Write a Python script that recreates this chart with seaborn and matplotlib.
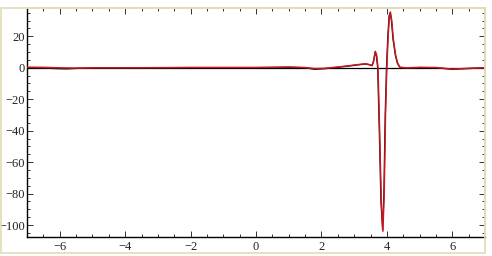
import matplotlib
matplotlib.use("Agg")
import matplotlib.pyplot as plt
from matplotlib.patches import Rectangle
from matplotlib.ticker import MultipleLocator
import seaborn as sns
import pandas as pd

# --- data ---
x_red = [-7, -6.5, -6, -5.5, -5, -4, -3, -2, -1, 0, 0.5, 1, 1.5, 1.8, 2.1, 2.5, 2.8,
         3.1, 3.35, 3.48, 3.55, 3.6, 3.65, 3.69, 3.73, 3.78, 3.83, 3.88, 3.92, 3.96,
         4.0, 4.04, 4.08, 4.11, 4.15, 4.2, 4.27, 4.33, 4.4, 4.6, 5, 5.5, 6, 6.5, 7]
y_red = [0.4, 0.3, 0.0, -0.2, 0.0, 0.0, 0.1, 0.2, 0.2, 0.2, 0.3, 0.5, 0.2, -0.5, -0.3, 0.5, 1.2,
         2.0, 2.6, 2.0, 1.5, 5.0, 10.5, 8.0, 0.0, -40.0, -85.0, -104.0, -80.0, -30.0,
         0.0, 20.0, 33.0, 35.5, 30.0, 18.0, 8.0, 3.0, 0.3, 0.0, 0.3, 0.2, -0.8, -0.3, 0.0]

x_blk = [-7, -6.5, -6, -5.8, -5.5, -5, -4, -3, -2, -1, 0, 0.5, 1, 1.5, 1.8, 2.1, 2.5, 2.8,
         3.1, 3.35, 3.48, 3.55, 3.6, 3.64, 3.68, 3.72, 3.77, 3.82, 3.87, 3.91, 3.95,
         3.99, 4.03, 4.07, 4.10, 4.14, 4.19, 4.26, 4.32, 4.4, 4.6, 5, 5.5, 6, 6.5, 7]
y_blk = [0.0, -0.2, -0.6, -0.7, -0.4, -0.1, 0.0, 0.0, 0.1, 0.1, 0.1, 0.2, 0.3, 0.0, -1.0, -0.6, 0.3, 1.0,
         1.8, 2.4, 1.8, 1.3, 4.5, 10.0, 7.5, 0.0, -40.0, -85.0, -103.0, -80.0, -30.0,
         0.0, 20.0, 33.0, 35.0, 30.0, 18.0, 8.0, 3.0, 0.2, -0.1, 0.1, 0.0, -1.0, -0.5, 0.0]

x_ticks = [-6, -4, -2, 0, 2, 4, 6]
y_ticks = [-100, -80, -60, -40, -20, 0, 20]

df_red = pd.DataFrame({"x": x_red, "y": y_red})
df_blk = pd.DataFrame({"x": x_blk, "y": y_blk})

sns.set_theme(style="ticks")
plt.rcParams["font.family"] = ["Liberation Serif", "DejaVu Serif"]

fig = plt.figure(figsize=(4.92, 2.56), dpi=100)
fig.patch.set_facecolor("white")
ax = fig.add_axes([27 / 492, 1 - 237 / 256, (485 - 27) / 492, (237 - 8) / 256])

ax.axhline(0, color="black", lw=0.9, zorder=1)
sns.lineplot(data=df_blk, x="x", y="y", ax=ax, color="#1a1a1a", lw=1.0, zorder=2)
sns.lineplot(data=df_red, x="x", y="y", ax=ax, color="#d0141e", lw=1.0, zorder=3)

ax.set_xlim(-7, 7)
ax.set_ylim(-107.6, 38)
ax.set_xticks(x_ticks)
ax.set_yticks(y_ticks)
ax.xaxis.set_minor_locator(MultipleLocator(0.5))
ax.yaxis.set_minor_locator(MultipleLocator(5))
ax.set_xlabel("")
ax.set_ylabel("")

ax.tick_params(which="both", direction="in", top=True, right=True,
               labelsize=9, colors="#333333", width=0.7)
ax.tick_params(axis="y", pad=1.5)
ax.tick_params(axis="x", pad=3)
ax.tick_params(which="major", length=4)
ax.tick_params(which="minor", length=2)
ax.tick_params(labelcolor="#222222")

for side in ["left", "bottom"]:
    ax.spines[side].set_color("black")
    ax.spines[side].set_linewidth(1.0)
for side in ["top", "right"]:
    ax.spines[side].set_visible(True)
    ax.spines[side].set_color("#e2dcb4")
    ax.spines[side].set_linewidth(1.2)

# faint frame around the picture
fig.patches.append(Rectangle((0.5 / 492, 1 - 253 / 256), 484 / 492, 245 / 256,
                             transform=fig.transFigure, fill=False,
                             edgecolor="#e2dcb4", lw=1.2, zorder=0))

fig.savefig("out.png", dpi=100, facecolor="white")
